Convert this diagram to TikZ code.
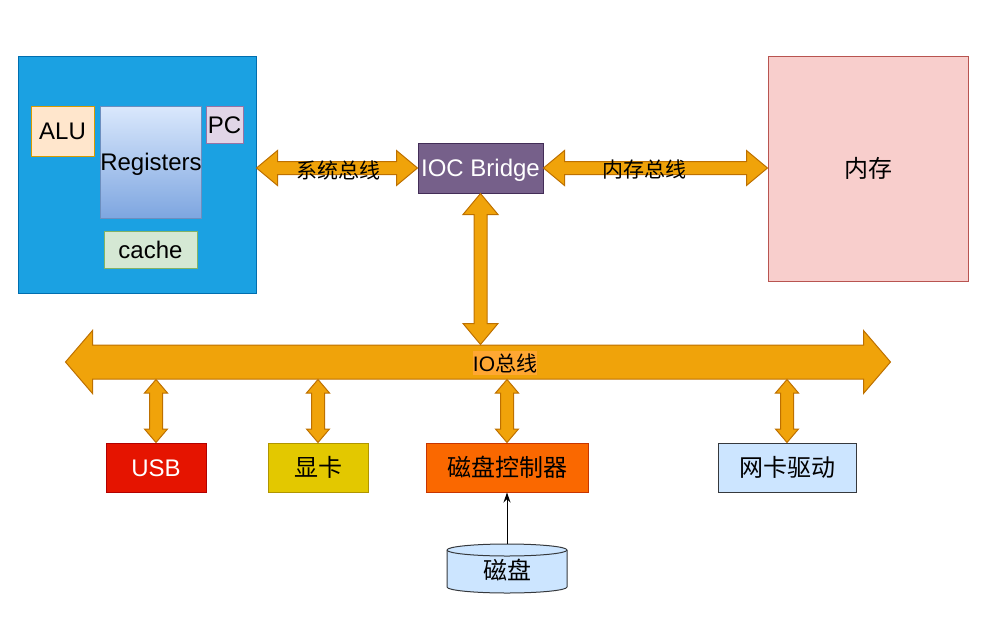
\documentclass[tikz,border=0pt]{standalone}
\usepackage{fontspec}
\setmainfont{Liberation Sans}
\newfontfamily\cjk{Noto Sans CJK SC}
\usetikzlibrary{%
  arrows.meta,%
  calc,%
  positioning%
}

\definecolor{cpufill}{HTML}{1BA1E2}\definecolor{cpuline}{HTML}{006EAF}
\definecolor{alufill}{HTML}{FFE6CC}\definecolor{aluline}{HTML}{D79B00}
\definecolor{regtop}{HTML}{DAE8FC}\definecolor{regbot}{HTML}{7EA6E0}\definecolor{regline}{HTML}{6C8EBF}
\definecolor{pcfill}{HTML}{E1D5E7}\definecolor{pcline}{HTML}{9673A6}
\definecolor{cachefill}{HTML}{D5E8D4}\definecolor{cacheline}{HTML}{82B366}
\definecolor{iocfill}{HTML}{76608A}\definecolor{iocline}{HTML}{432D57}
\definecolor{memfill}{HTML}{F8CECC}\definecolor{memline}{HTML}{B85450}
\definecolor{usbfill}{HTML}{E51400}\definecolor{usbline}{HTML}{B20000}
\definecolor{gpufill}{HTML}{E3C800}\definecolor{gpuline}{HTML}{B09500}
\definecolor{ctlfill}{HTML}{FA6800}\definecolor{ctlline}{HTML}{C73500}
\definecolor{nicfill}{HTML}{CCE5FF}\definecolor{nicline}{HTML}{36393D}
\definecolor{busfill}{HTML}{F0A30A}\definecolor{busline}{HTML}{BD7000}
\definecolor{labelfill}{HTML}{FFA733}

% horizontal double block arrow: left, right, shaft half, head half, head length
\newcommand{\busH}[5]{%
  \filldraw[bus] let \p1=#1, \p2=#2 in
    (\x1,\y1) -- (\x1+#5pt,\y1+#4pt) -- (\x1+#5pt,\y1+#3pt) -- (\x2-#5pt,\y1+#3pt)
    -- (\x2-#5pt,\y1+#4pt) -- (\x2,\y1) -- (\x2-#5pt,\y1-#4pt) -- (\x2-#5pt,\y1-#3pt)
    -- (\x1+#5pt,\y1-#3pt) -- (\x1+#5pt,\y1-#4pt) -- cycle;}
% vertical double block arrow: top, bottom, shaft half, head half, head length
\newcommand{\busV}[5]{%
  \filldraw[bus] let \p1=#1, \p2=#2 in
    (\x1,\y1) -- (\x1+#4pt,\y1-#5pt) -- (\x1+#3pt,\y1-#5pt) -- (\x1+#3pt,\y2+#5pt)
    -- (\x1+#4pt,\y2+#5pt) -- (\x1,\y2) -- (\x1-#4pt,\y2+#5pt) -- (\x1-#3pt,\y2+#5pt)
    -- (\x1-#3pt,\y1-#5pt) -- (\x1-#4pt,\y1-#5pt) -- cycle;}

\begin{document}
\begin{tikzpicture}
[x=1pt, y=-1pt, line width=1pt, font=\fontsize{24}{28}\selectfont,
box/.style={rectangle, draw, inner sep=0pt, text height=17pt, text depth=0pt},
cjkbox/.style={box, font=\fontsize{24}{28}\selectfont\cjk},
bus/.style={fill=busfill, draw=busline, line width=1pt, line join=miter},
buslabel/.style={font=\fontsize{21}{25}\selectfont\cjk, inner sep=0pt}]

\useasboundingbox (0,0) rectangle (989,619);

% CPU
\node[box, fill=cpufill, draw=cpuline, minimum width=238pt, minimum height=237pt] (cpu) at (137,174.5) {};
\node[box, fill=alufill, draw=aluline, minimum width=63pt, minimum height=50pt] (alu) at (62.5,131) {ALU};
\node[box, top color=regtop, bottom color=regbot, draw=regline, minimum width=100pt, minimum height=112pt] (regs) at (151,162) {Registers};
\node[box, fill=pcfill, draw=pcline, minimum width=37pt, minimum height=37pt] (pc) at (224.5,124.5) {PC};
\node[box, fill=cachefill, draw=cacheline, minimum width=93pt, minimum height=37pt] (cache) at (150.5,249.5) {cache};

% bridge and memory
\node[box, fill=iocfill, draw=iocline, text=white, minimum width=125pt, minimum height=50pt] (ioc) at (480.5,168) {IOC Bridge};
\node[cjkbox, fill=memfill, draw=memline, minimum width=200pt, minimum height=225pt] (mem) at (868,168.5) {内存};

\busH{(cpu.east |- ioc.west)}{(ioc.west)}{6.5}{17.5}{21}
\node[buslabel] (sysbus) at (338,170) {系统总线};
\busH{(ioc.east)}{(mem.west |- ioc.east)}{6.5}{17.5}{21}
\node[buslabel] (membus) at (644,170) {内存总线};

% IO bus
\node[inner sep=0pt, minimum width=824pt, minimum height=34pt] (iobus) at (478,362) {};
\busH{(iobus.west)}{(iobus.east)}{17}{31.5}{27}
\node[buslabel, fill=labelfill, inner ysep=2pt] (iolabel) at (505,363) {{\fontsize{21}{25}\selectfont\normalfont IO}总线};
\busV{(ioc.south)}{(ioc.south |- iobus.north)}{6.5}{17.5}{21}

% devices
\node[box, fill=usbfill, draw=usbline, text=white, minimum width=100pt, minimum height=49pt] (usb) at (156,467.5) {USB};
\node[cjkbox, fill=gpufill, draw=gpuline, minimum width=100pt, minimum height=49pt] (gpu) at (318,467.5) {显卡};
\node[cjkbox, fill=ctlfill, draw=ctlline, minimum width=162pt, minimum height=49pt] (diskctl) at (507,467.5) {磁盘控制器};
\node[cjkbox, fill=nicfill, draw=nicline, minimum width=138pt, minimum height=49pt] (nic) at (787,467.5) {网卡驱动};

\foreach \dev in {usb, gpu, diskctl, nic}{
  \busV{(\dev.north |- iobus.south)}{(\dev.north)}{6.5}{11.5}{13.5}
}

% disk
\filldraw[fill=nicfill, draw=nicline]
  (507-60,550) -- (507-60,587)
  arc[start angle=180, end angle=360, x radius=60pt, y radius=6pt]
  -- (507+60,550)
  arc[start angle=0, end angle=180, x radius=60pt, y radius=6pt] -- cycle;
\draw[nicline] (507-60,550) arc[start angle=180, end angle=360, x radius=60pt, y radius=6pt];
\node[cjkbox, draw=none, minimum width=120pt, minimum height=54pt] (disk) at (507,571) {磁盘};
\draw[-{Stealth[length=10pt, width=7pt]}, line width=1pt] (disk.north) -- (diskctl.south);
\end{tikzpicture}
\end{document}
